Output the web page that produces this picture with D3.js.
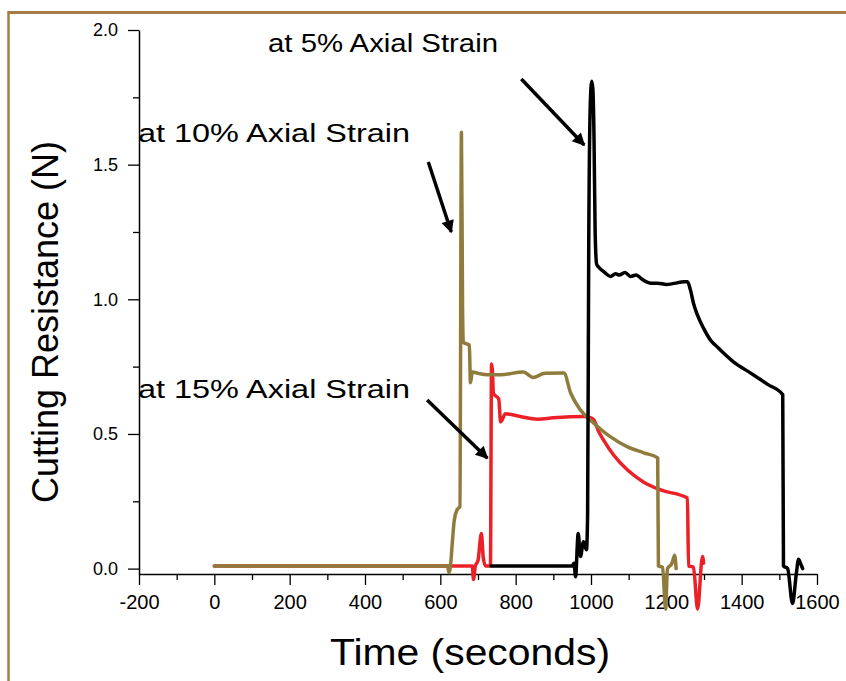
<!DOCTYPE html>
<html>
<head>
<meta charset="utf-8">
<script src="https://cdnjs.cloudflare.com/ajax/libs/d3/7.8.5/d3.min.js"></script>
<style>
  body { margin: 0; background: #fff; }
  svg { display: block; font-family: "Liberation Sans", Arial, Helvetica, sans-serif; }
</style>
</head>
<body>
<div id="chart"></div>
<script>
// time (s) / cutting resistance (N)
const strain5Time = [735, 950, 955, 959, 966, 972, 980, 988, 991, 994, 998, 1002, 1005, 1008, 1011, 1015, 1020, 1036, 1052, 1065, 1075, 1090, 1105, 1120, 1135, 1160, 1177, 1200, 1250, 1256, 1264, 1272, 1283, 1299, 1317, 1336, 1379, 1424, 1469, 1509, 1511, 1522, 1535, 1545, 1551, 1556, 1562];
const strain5Force = [0.01, 0.01, 0.02, -0.03, 0.13, 0.045, 0.10, 0.07, 0.2, 1.2, 1.72, 1.81, 1.78, 1.6, 1.25, 1.13, 1.12, 1.10, 1.085, 1.095, 1.09, 1.10, 1.085, 1.09, 1.075, 1.06, 1.06, 1.055, 1.065, 1.065, 1.035, 0.986, 0.94, 0.892, 0.849, 0.822, 0.767, 0.726, 0.684, 0.646, 0.01, 0.0, -0.13, -0.02, 0.035, 0.02, 0.0];

const strain10Time = [0, 619, 623, 627, 632, 637, 645, 652, 656, 659, 661, 677, 680, 685, 701, 725, 760, 820, 846, 878, 928, 946, 972, 1007, 1052, 1097, 1140, 1177, 1179, 1190, 1198, 1203, 1215, 1222, 1226];
const strain10Force = [0.01, 0.01, -0.015, 0.01, 0.10, 0.18, 0.22, 0.23, 1.62, 0.97, 0.84, 0.83, 0.69, 0.73, 0.725, 0.72, 0.72, 0.73, 0.71, 0.725, 0.726, 0.652, 0.589, 0.541, 0.489, 0.452, 0.43, 0.411, 0.01, 0.005, -0.15, 0.0, 0.02, 0.05, 0.0];

const strain15Time = [0, 685, 688, 693, 700, 709, 714, 720, 733, 736, 738, 741, 755, 760, 773, 812, 858, 900, 980, 1000, 1007, 1020, 1033, 1060, 1097, 1139, 1185, 1256, 1259, 1272, 1283, 1296, 1299];
const strain15Force = [0.01, 0.01, -0.04, 0.01, 0.03, 0.13, 0.04, 0.01, 0.01, 0.76, 0.74, 0.65, 0.63, 0.545, 0.575, 0.565, 0.555, 0.56, 0.565, 0.56, 0.553, 0.51, 0.478, 0.422, 0.366, 0.322, 0.292, 0.262, 0.01, 0.005, -0.15, 0.045, 0.02];

const xTicks = [-200, 0, 200, 400, 600, 800, 1000, 1200, 1400, 1600];
const yTicks = [0.0, 0.5, 1.0, 1.5, 2.0];

// annotation text and arrows (start / tip in data units)
const labels = ["at 5% Axial Strain", "at 10% Axial Strain", "at 15% Axial Strain"];
const arrowStart = [[815, 1.818], [568, 1.51], [565, 0.626]];
const arrowTip = [[982, 1.573], [629, 1.25], [725, 0.41]];

const W = 846, H = 681;
const svg = d3.select("#chart").append("svg")
    .attr("width", W)
    .attr("height", H);

svg.append("rect").attr("width", W).attr("height", H).attr("fill", "#fff");

// brown frame (top + left edges)
svg.append("line").attr("x1", 8).attr("x2", W).attr("y1", 12.5).attr("y2", 12.5)
    .attr("stroke", "#a67c45").attr("stroke-width", 3);
svg.append("line").attr("x1", 8.5).attr("x2", 8.5).attr("y1", 11).attr("y2", H)
    .attr("stroke", "#a67c45").attr("stroke-width", 2.5);

const x = d3.scaleLinear().domain([-200, 1600]).range([139, 817]);
const y = d3.scaleLinear().domain([-0.02, 2.0]).range([574, 30]);

// minor ticks
svg.append("g")
    .attr("transform", `translate(0,${y(-0.02)})`)
    .call(d3.axisBottom(x).tickValues(d3.range(-100, 1600, 200)).tickSize(6).tickSizeOuter(0).tickFormat(""))
    .call(g => g.select(".domain").remove());
svg.append("g")
    .attr("transform", `translate(${x(-200)},0)`)
    .call(d3.axisLeft(y).tickValues([0.25, 0.75, 1.25, 1.75]).tickSize(6).tickSizeOuter(0).tickFormat(""))
    .call(g => g.select(".domain").remove());

// major axes (plain hyphen for negatives, like the original)
const xAxis = svg.append("g")
    .attr("transform", `translate(0,${y(-0.02)})`)
    .call(d3.axisBottom(x).tickValues(xTicks).tickSize(11).tickSizeOuter(0).tickPadding(10).tickFormat(d => String(d)));
xAxis.selectAll("text").style("font-size", "20px").attr("fill", "#000");

const yAxis = svg.append("g")
    .attr("transform", `translate(${x(-200)},0)`)
    .call(d3.axisLeft(y).tickValues(yTicks).tickSize(11).tickSizeOuter(0).tickPadding(10).tickFormat(d => d.toFixed(1)));
yAxis.selectAll("text").style("font-size", "18px").attr("fill", "#000");

svg.selectAll(".domain").attr("stroke", "#000").attr("stroke-width", 1.5);
svg.selectAll(".tick line").attr("stroke", "#000").attr("stroke-width", 1.3);

// series
const line = d3.line().x(d => x(d[0])).y(d => y(d[1])).curve(d3.curveMonotoneX);
const series = [
    { t: strain15Time, f: strain15Force, color: "#ec2027" },
    { t: strain10Time, f: strain10Force, color: "#8f7b3b" },
    { t: strain5Time, f: strain5Force, color: "#000000" }
];
series.forEach(s => {
    svg.append("path")
        .datum(s.t.map((t, i) => [t, s.f[i]]))
        .attr("d", line)
        .attr("fill", "none")
        .attr("stroke", s.color)
        .attr("stroke-width", 3.5)
        .attr("stroke-linejoin", "round")
        .attr("stroke-linecap", "round");
});

// arrows
svg.append("defs").append("marker")
    .attr("id", "head")
    .attr("viewBox", "0 0 10 10")
    .attr("refX", 9).attr("refY", 5)
    .attr("markerWidth", 4.5).attr("markerHeight", 3.6)
    .attr("markerUnits", "strokeWidth")
    .attr("orient", "auto")
    .append("path").attr("d", "M0,0 L10,5 L0,10 Z").attr("fill", "#000");

arrowStart.forEach((s, i) => {
    svg.append("line")
        .attr("x1", x(s[0])).attr("y1", y(s[1]))
        .attr("x2", x(arrowTip[i][0])).attr("y2", y(arrowTip[i][1]))
        .attr("stroke", "#000").attr("stroke-width", 3.5)
        .attr("marker-end", "url(#head)");
});

// annotation labels
const labelPos = [[268, 52, 230], [138, 142, 272], [138, 398, 272]];
labels.forEach((txt, i) => {
    svg.append("text")
        .attr("x", labelPos[i][0]).attr("y", labelPos[i][1])
        .attr("textLength", labelPos[i][2])
        .attr("lengthAdjust", "spacingAndGlyphs")
        .style("font-size", "25px")
        .text(txt);
});

// axis titles
svg.append("text")
    .attr("x", 330).attr("y", 665)
    .attr("textLength", 280)
    .attr("lengthAdjust", "spacingAndGlyphs")
    .style("font-size", "37px")
    .text("Time (seconds)");

svg.append("text")
    .attr("transform", "translate(58,322) rotate(-90)")
    .attr("text-anchor", "middle")
    .style("font-size", "36px")
    .text("Cutting Resistance (N)");
</script>
</body>
</html>
